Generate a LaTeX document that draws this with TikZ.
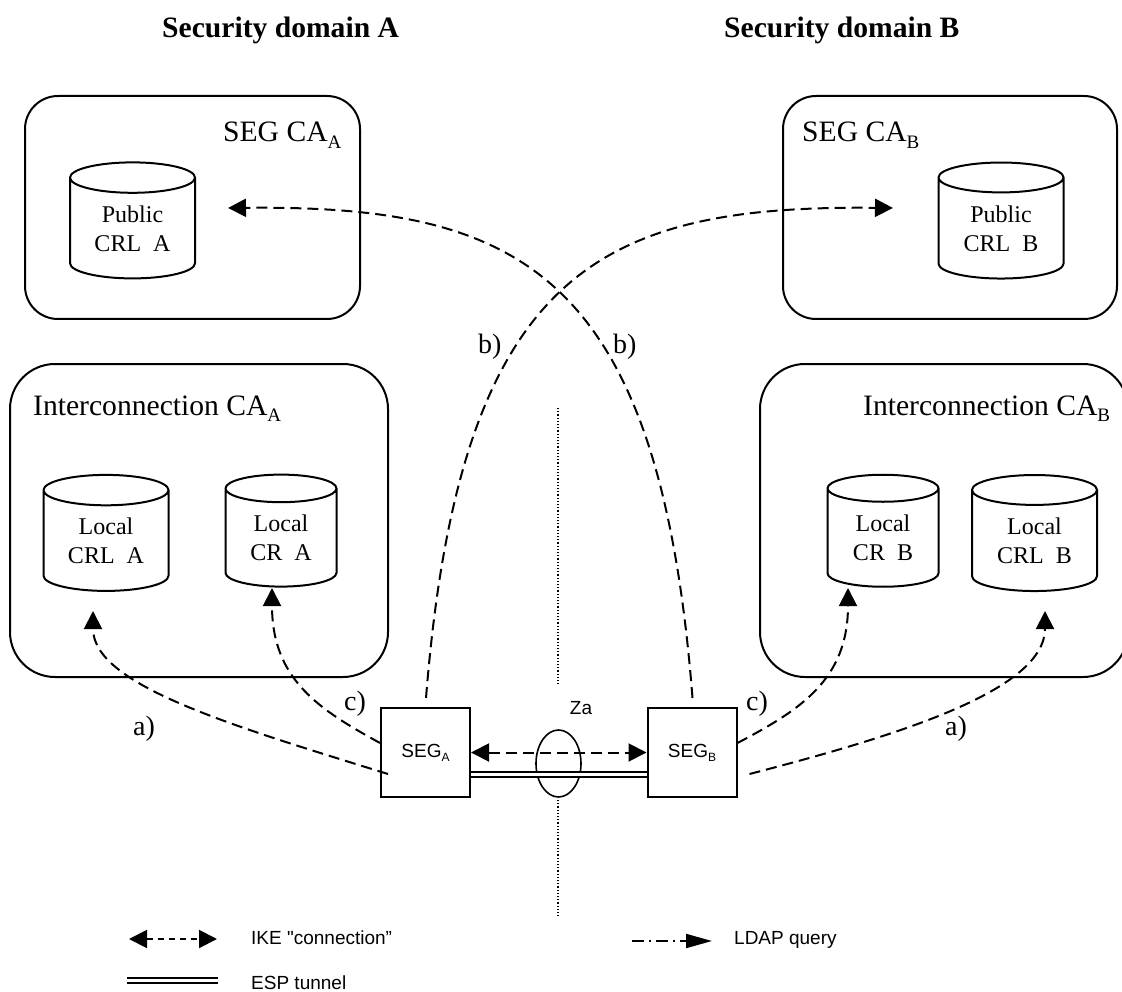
\documentclass[tikz,border=0pt]{standalone}
\usepackage{fontspec}
\setmainfont{Liberation Serif}
\setsansfont{Liberation Sans}
\usetikzlibrary{shapes.geometric}
\usetikzlibrary{arrows.meta}
\newcommand{\lowsub}[2]{\raisebox{-0.22em}{\fontsize{#2}{#2}\selectfont #1}}
\tikzset{
	title_n/.style = {anchor=base west, inner sep=0pt, font=\fontsize{29.6}{34}\selectfont\bfseries},
	ca_box/.style = {draw=black, line width=2pt, rectangle},% certificate authority frame
	ca_lab/.style = {anchor=base west, inner sep=0pt, font=\fontsize{29.6}{34}\selectfont},
	store/.style = {cylinder, shape border rotate=90, draw=black, line width=2pt, aspect=0.4,
		inner sep=0pt, align=center, font=\fontsize{24}{29}\selectfont},% crl and cr stores
	seg_n/.style = {rectangle, draw=black, line width=2pt, minimum width=89pt, minimum height=89pt,
		inner sep=0pt, font=\sffamily\fontsize{19}{22}\selectfont},
	step_lab/.style = {anchor=base west, inner sep=0pt, font=\fontsize{28}{32}\selectfont},
	leg_lab/.style = {anchor=base west, inner sep=0pt, font=\sffamily\fontsize{19}{22}\selectfont},
	ldap/.style = {line width=2pt, dashed, dash pattern=on 11pt off 6pt, -{Triangle[length=18pt,width=18pt]}},
	ike/.style = {ldap, {Triangle[length=18pt,width=18pt]}-{Triangle[length=18pt,width=18pt]}},
	esp/.style = {double, double distance=3pt, line width=2pt},
	border/.style = {dotted, line width=1.2pt}
}
\begin{document}
\begin{tikzpicture}[x=1pt,y=-1pt]
	\clip (0,0) rectangle (1122,992);
	\node [title_n] at (162,38) {Security domain A};
	\node [title_n] at (724,38) {Security domain B};
	% frames
	\node [ca_box, rounded corners=33pt, minimum width=335pt, minimum height=223pt] (segcaA) at (192.5,207.5) {};
	\node [ca_box, rounded corners=33pt, minimum width=334pt, minimum height=223pt] (segcaB) at (950,207.5) {};
	\node [ca_box, rounded corners=45pt, minimum width=378pt, minimum height=313pt] (intcaA) at (199,520.5) {};
	\node [ca_box, rounded corners=45pt, minimum width=368pt, minimum height=313pt] (intcaB) at (944,520.5) {};
	\node [ca_lab] at (223,142) {SEG CA\lowsub{A}{19}};
	\node [ca_lab] at (802,142) {SEG CA\lowsub{B}{19}};
	\node [ca_lab] at (33,415) {Interconnection CA\lowsub{A}{19}};
	\node [ca_lab] at (863,415) {Interconnection CA\lowsub{B}{19}};
	% stores
	\node [store, minimum width=125pt, minimum height=116pt] (pubA) at (132.5,228.5) {Public\\CRL~~A};
	\node [store, minimum width=125pt, minimum height=116pt] (pubB) at (1001,228.5) {Public\\CRL~~B};
	\node [store, minimum width=125pt, minimum height=116pt] (crlA) at (106,541) {Local\\CRL~~A};
	\node [store, aspect=0.45, minimum width=111pt, minimum height=112pt] (crA) at (281,538) {Local\\CR~~A};
	\node [store, aspect=0.45, minimum width=111pt, minimum height=112pt] (crB) at (883,538) {Local\\CR~~B};
	\node [store, minimum width=125pt, minimum height=116pt] (crlB) at (1034.5,541) {Local\\CRL~~B};
	% gateways
	\node [seg_n] (segA) at (425.5,752.5) {SEG\lowsub{A}{12}};
	\node [seg_n] (segB) at (692,752.5) {SEG\lowsub{B}{12}};
	\node [ellipse, draw=black, line width=1.6pt, minimum width=45pt, minimum height=67pt, inner sep=0pt] (za) at (558.5,763.5) {};
	\node [anchor=center, inner sep=0pt, font=\sffamily\fontsize{19}{22}\selectfont] (zalab) at (581,708) {Za};
	\coordinate (topdot) at (558,408);
	\coordinate (midtop) at (558,684);
	\coordinate (middown) at (558,800);
	\coordinate (lowdot) at (558,918);
	\draw [border] (topdot) -- (midtop);
	\draw [border] (middown) -- (lowdot);
	\draw [ike] (segA) -- (segB);
	\draw [esp] ([yshift=-22pt]segA.east) -- ([yshift=-22pt]segB.west);
	% queries
	\coordinate (tipcrlA) at (93,611);
	\coordinate (tipcrA) at (272,588);
	\coordinate (tipcrB) at (848,588);
	\coordinate (tipcrlB) at (1045,611);
	\coordinate (tippubA) at (228,208);
	\coordinate (tippubB) at (893,208);
	\draw [ldap] ([shift={(8pt,-21.5pt)}]segA.west) .. controls (230,725) and (93,685) .. (tipcrlA);
	\draw [ldap] ([yshift=9.5pt]segA.west) .. controls (320,710) and (272,680) .. (tipcrA);
	\draw [ldap] ([yshift=9.5pt]segB.east) .. controls (800,710) and (848,680) .. (tipcrB);
	\draw [ldap] ([shift={(12pt,-21.5pt)}]segB.east) .. controls (900,735) and (1045,690) .. (tipcrlB);
	\draw [ldap] ([shift={(0.5pt,9pt)}]segA.north) .. controls (460,270) and (600,205) .. (tippubB);
	\draw [ldap] ([shift={(0.5pt,9pt)}]segB.north) .. controls (659,270) and (519,205) .. (tippubA);
	\node [step_lab] at (133,735) {a)};
	\node [step_lab] at (945,735) {a)};
	\node [step_lab] at (478,353) {b)};
	\node [step_lab] at (613,353) {b)};
	\node [step_lab] at (344,710) {c)};
	\node [step_lab] at (746,710) {c)};
	% legend
	\coordinate (ikeL) at (129,939);
	\coordinate (ikeR) at (217,939);
	\coordinate (ldapL) at (632,941);
	\coordinate (ldapR) at (712,941);
	\coordinate (espL) at (127,980);
	\coordinate (espR) at (218,980);
	\draw [ike, dash pattern=on 6pt off 5pt] (ikeL) -- (ikeR);
	\draw [line width=2pt, dash pattern=on 12pt off 5pt on 2pt off 5pt, -{Triangle[length=26pt,width=14pt]}] (ldapL) -- (ldapR);
	\draw [esp] (espL) -- (espR);
	\node [leg_lab] at (251,944) {IKE {\addfontfeature{Mapping=}\char34}connection{\char34}};
	\node [leg_lab] at (734,944) {LDAP query};
	\node [leg_lab] at (251,989) {ESP tunnel};
\end{tikzpicture}
\end{document}
